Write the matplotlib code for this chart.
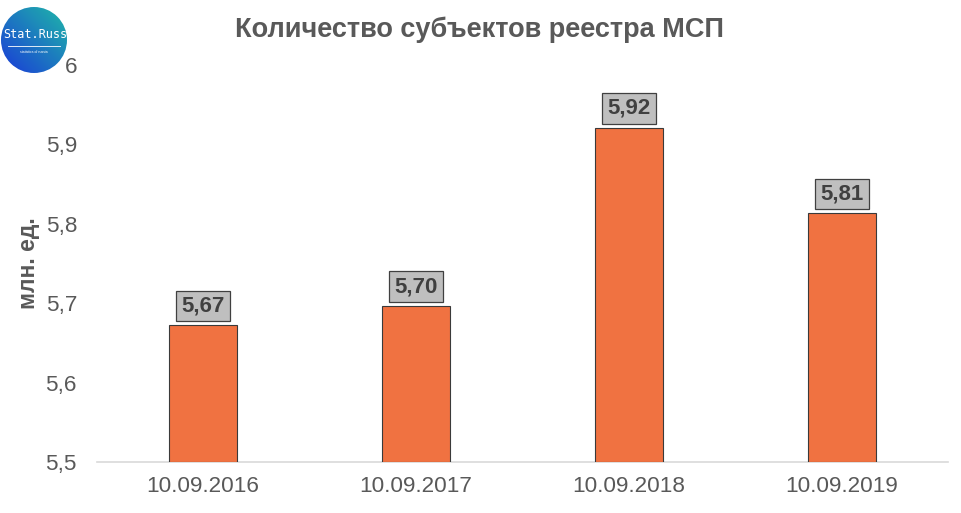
import matplotlib
matplotlib.use("Agg")
import matplotlib.pyplot as plt
import numpy as np
from matplotlib.patches import Circle

categories = ["10.09.2016", "10.09.2017", "10.09.2018", "10.09.2019"]
values = [5.672, 5.696, 5.921, 5.813]
labels = ["5,67", "5,70", "5,92", "5,81"]
yticks = [5.5, 5.6, 5.7, 5.8, 5.9, 6.0]
ytick_labels = ["5,5", "5,6", "5,7", "5,8", "5,9", "6"]

plt.rcParams['font.family'] = ['Liberation Sans', 'DejaVu Sans']

fig = plt.figure(figsize=(9.62, 5.13), dpi=100)
ax = fig.add_axes([96.5/962, 1 - 462/513, (948.5 - 96.5)/962, (462 - 65)/513])

x = np.arange(len(categories))
ax.bar(x, [v - 5.5 for v in values], bottom=5.5, width=0.32,
       color="#F07241", edgecolor="#3a3a3a", linewidth=0.8, zorder=3)
for xi, v, lab in zip(x, values, labels):
    ax.annotate(lab, (xi, v), xytext=(0, 6.5), textcoords="offset points",
                ha="center", va="bottom", fontsize=16, fontweight="bold",
                color="#404040",
                bbox=dict(boxstyle="square,pad=0.22", fc="#BFBFBF", ec="#404040", lw=0.9),
                zorder=4)

ax.set_xlim(-0.5, len(categories) - 0.5)
ax.set_ylim(5.5, 6.0)
ax.set_yticks(yticks)
ax.set_yticklabels(ytick_labels)
ax.set_xticks(x)
ax.set_xticklabels(categories)
ax.tick_params(axis="both", length=0, labelsize=16.2, colors="#595959")
ax.tick_params(axis="y", pad=14)
ax.tick_params(axis="x", pad=10)
for s in ["top", "right", "left"]:
    ax.spines[s].set_visible(False)
ax.spines["bottom"].set_color("#D9D9D9")
ax.spines["bottom"].set_linewidth(1.2)
ax.set_ylabel("млн. ед.", fontsize=16.5, fontweight="bold", color="#595959", labelpad=4)

fig.text(480/962, 1 - 30/513, "Количество субъектов реестра МСП", ha="center", va="center",
         fontsize=19.5, fontweight="bold", color="#595959")

# logo
lax = fig.add_axes([0, 1 - 80/513, 70/962, 80/513])
lax.set_xlim(0, 70)
lax.set_ylim(0, 80)
lax.set_aspect("equal")
lax.axis("off")
img = np.zeros((100, 100, 3))
c0 = np.array([0x1f, 0xb8, 0xa8]) / 255
c1 = np.array([0x1a, 0x3a, 0xd8]) / 255
for i in range(100):
    for j in range(100):
        t = (i + (99 - j)) / 198.0
        img[i, j] = c0 * (1 - t) + c1 * t
im = lax.imshow(img, extent=[1, 67, 7, 73], origin="upper")
circ = Circle((34, 40), 33, transform=lax.transData)
im.set_clip_path(circ)
lax.text(35, 45, "Stat.Russ", ha="center", va="center", color="white",
         fontsize=8.5, family="DejaVu Sans Mono")
lax.plot([8, 60], [34, 34], color="white", lw=0.6)
lax.text(34, 28, "statistics of russia", ha="center", va="center", color="white", fontsize=2.5)

fig.savefig("out.png", dpi=100)
